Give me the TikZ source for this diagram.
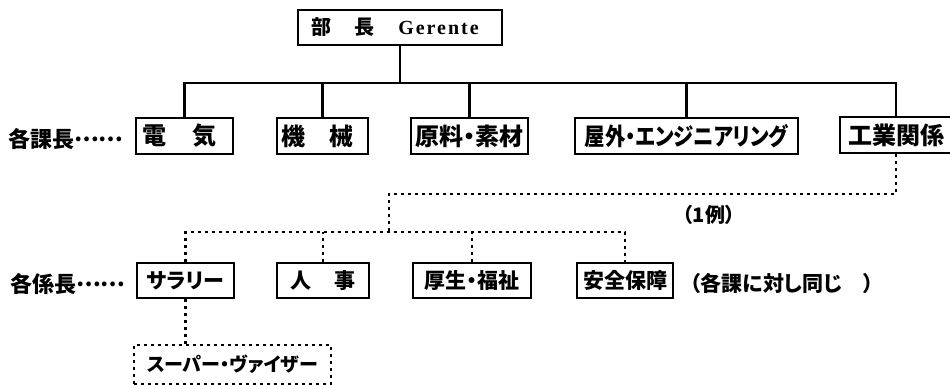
\documentclass[tikz,border=0pt]{standalone}
\usepackage{fontspec}
\usepackage{graphicx}
\setmainfont{Liberation Serif}
\newfontfamily\jpfont[RawFeature=+palt]{Noto Sans CJK JP}
\newfontfamily\gerfont[LetterSpace=10]{Liberation Serif}
\begin{document}
\begin{tikzpicture}[x=1pt,y=-1pt,
  box/.style={draw, line width=2.2pt, inner sep=0pt, minimum height=36pt, align=center, font=\jpfont\bfseries},
  dbox/.style={draw, line width=2.2pt, dash pattern=on 3pt off 4pt, inner sep=0pt, minimum height=39pt, minimum width=197pt, font=\jpfont\bfseries},
  conn/.style={line width=2.4pt},
  dotl/.style={line width=2.2pt, dash pattern=on 3pt off 4pt},
  lab/.style={inner sep=0pt, anchor=west, font=\jpfont\bfseries}
]
\useasboundingbox (0,0) rectangle (950,385);

% top
\node[box, minimum width=204pt, minimum height=35pt] (top) at (400,27.5)
  {\fontsize{20}{22}\selectfont 部\hspace{23pt}長\hspace{24pt}{\gerfont\bfseries\fontsize{20}{22}\selectfont Gerente}\hspace{10pt}};

% level 2
\node[box, minimum width=97pt] (den) at (184.5,136) {\fontsize{24}{26}\selectfont 電\hspace{26pt}気\hspace{10pt}};
\node[box, minimum width=91pt] (kik) at (322.5,136) {\fontsize{24}{26}\selectfont 機\hspace{25pt}械\hspace{10pt}};
\node[box, minimum width=117pt] (gen) at (469.5,136) {\fontsize{24}{26}\selectfont 原料・素材};
\node[box, minimum width=223pt] (oku) at (686.5,136) {\fontsize{24}{26}\selectfont \scalebox{0.85}[1]{屋外・エンジニアリング}};
\node[box, minimum width=112pt] (kog) at (896,135) {\fontsize{24}{26}\selectfont 工業関係};

% level 3
\node[box, minimum width=97pt, minimum height=35pt] (sal) at (185.5,280.5) {\fontsize{21}{23}\selectfont サラリー};
\node[box, minimum width=92pt, minimum height=35pt] (jin) at (323,280.5) {\fontsize{21}{23}\selectfont 人\hspace{23pt}事};
\node[box, minimum width=118pt, minimum height=35pt] (kos) at (472,280.5) {\fontsize{21}{23}\selectfont 厚生・福祉};
\node[box, minimum width=96pt, minimum height=35pt] (anz) at (625,280.5) {\fontsize{21}{23}\selectfont 安全保障};

% supervisor
\node[dbox] (sup) at (232.5,364.5) {\fontsize{19}{21}\selectfont スーパー・ヴァイザー};

% labels
\node[lab] (lab1) at (8,139) {\fontsize{22}{24}\selectfont 各課長\raisebox{6pt}{……}};
\node[lab] (lab2) at (10,284) {\fontsize{22}{24}\selectfont 各係長\raisebox{6pt}{……}};
\node[inner sep=0pt, font=\jpfont\bfseries] (ex1) at (709,215) {\fontsize{20}{22}\selectfont （1例）};
\node[lab] (note) at (690,283) {\fontsize{21}{23}\selectfont （各課に対し同じ　）};

% solid connectors
\coordinate (bus) at (0,83);
\draw[conn] (top.south) -- (top.south |- bus);
\draw[conn] (den.north) |- (bus -| kog.north) -- (kog.north);
\draw[conn] (kik.north) -- (kik.north |- bus);
\draw[conn] (gen.north) -- (gen.north |- bus);
\draw[conn] (oku.north) -- (oku.north |- bus);

% dotted connectors
\coordinate (mid) at (389,194);
\coordinate (bus2) at (0,232);
\draw[dotl] (kog.south) |- (mid) -- (mid |- bus2);
\draw[dotl] (sal.north) |- (bus2 -| anz.north) -- (anz.north);
\draw[dotl] (jin.north) -- (jin.north |- bus2);
\draw[dotl] (kos.north) -- (kos.north |- bus2);
\draw[dotl] (sal.south) -- (sal.south |- sup.north);
\end{tikzpicture}
\end{document}
